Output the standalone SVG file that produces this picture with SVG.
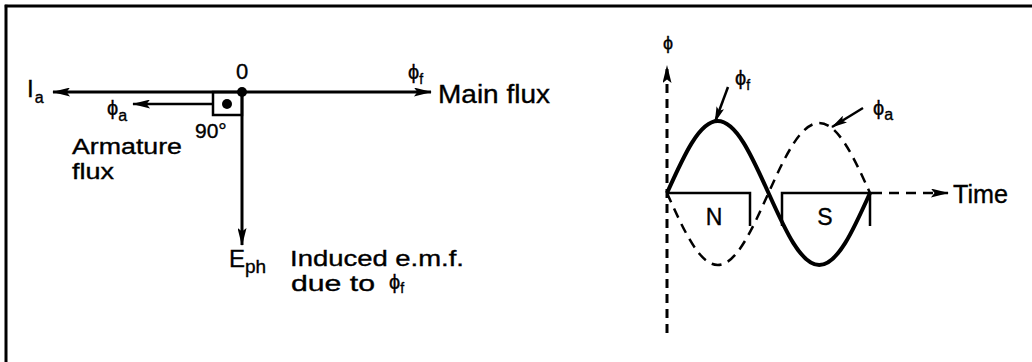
<svg xmlns="http://www.w3.org/2000/svg" width="1032" height="362" viewBox="0 0 1032 362">
<style>
.ln{stroke:#000;stroke-width:3;fill:none;stroke-linecap:butt}
.th{stroke:#000;stroke-width:2.5;fill:none}
.dash{stroke:#000;stroke-width:3;fill:none;stroke-dasharray:9 6}
.dsh2{stroke:#000;stroke-width:2.5;fill:none;stroke-dasharray:10 7}
.sine{stroke:#000;stroke-width:4;fill:none}
text{font-family:"Liberation Sans",Arial,sans-serif;fill:#000;stroke:#000;stroke-width:0.35}
.lb{font-size:25px}
.lb2{font-size:22px}
.sub{font-size:16px}
</style>
<defs>
<marker id="ah" viewBox="0 0 20 10" refX="19" refY="5" markerWidth="20" markerHeight="9" markerUnits="userSpaceOnUse" orient="auto">
<path d="M0,0 L20,5 L0,10 L4,5 z" fill="#000"/>
</marker>
<marker id="ahs" viewBox="0 0 20 10" refX="19" refY="5" markerWidth="16" markerHeight="8" markerUnits="userSpaceOnUse" orient="auto">
<path d="M0,0 L20,5 L0,10 L4,5 z" fill="#000"/>
</marker>
</defs>
<rect width="1032" height="362" fill="#fff"/>
<g id="border">
<line x1="6" y1="4.8" x2="6" y2="362" class="ln" stroke-width="2.5"/>
<line x1="4.8" y1="6" x2="1032" y2="6" class="ln" stroke-width="2.5"/>
</g>

<g id="connectors">
<line x1="242" y1="92" x2="53" y2="92" class="ln" marker-end="url(#ah)"/>
<line x1="213" y1="104" x2="133" y2="104" class="th" marker-end="url(#ah)"/>
<line x1="242" y1="92" x2="431" y2="92" class="ln" marker-end="url(#ah)"/>
<line x1="242" y1="92" x2="242" y2="245" class="ln" marker-end="url(#ah)"/>
<line x1="667" y1="333" x2="667" y2="66" class="dash" marker-end="url(#ah)"/>
<line x1="872" y1="193" x2="948" y2="193" class="dsh2" marker-end="url(#ah)"/>
<line x1="728" y1="87" x2="715" y2="122" class="th" marker-end="url(#ahs)"/>
<line x1="863" y1="108" x2="832" y2="127" class="th" marker-end="url(#ahs)"/>
</g>

<g id="phasor-diagram">
<rect x="213" y="92" width="29" height="23" class="th" stroke-width="2"/>
<circle cx="227" cy="104" r="5" fill="#000"/>
<circle cx="242" cy="92" r="5" fill="#000"/>
<text x="242" y="79" font-size="22" text-anchor="middle">0</text>
<text x="27" y="97" font-size="24">I<tspan class="sub" dx="1" dy="6">a</tspan></text>
<text x="107" y="115" font-size="20">ϕ<tspan class="sub" dy="6">a</tspan></text>
<text x="195" y="138" font-size="21">90°</text>
<text x="72" y="153.5" class="lb2" textLength="110" lengthAdjust="spacingAndGlyphs">Armature</text>
<text x="72" y="178.5" class="lb2" textLength="42" lengthAdjust="spacingAndGlyphs">flux</text>
<text x="408" y="79" font-size="20">ϕ<tspan font-size="14" dy="5">f</tspan></text>
<text x="438" y="103" class="lb" textLength="112" lengthAdjust="spacingAndGlyphs">Main flux</text>
<text x="229" y="267" font-size="24">E<tspan font-size="19" dy="6">ph</tspan></text>
<text x="290" y="266" class="lb2" textLength="174" lengthAdjust="spacingAndGlyphs">Induced e.m.f.</text>
<text x="291" y="291" class="lb2" textLength="84" lengthAdjust="spacingAndGlyphs">due to</text>
<text x="389" y="289" font-size="20">ϕ<tspan font-size="14" dy="4">f</tspan></text>
</g>

<g id="waveform">
<path d="M667,193 H750 V226 M782,226 V193 H872 M870,193 V226" class="th"/>
<path class="sine" d="M667,193 C683.97,155.19 699.48,121 717.75,121 C736.02,121 751.53,155.19 768.5,193 C785.47,230.81 800.98,265 819.25,265 C837.52,265 853.03,230.81 870,193"/>
<path class="dsh2" d="M667,193 C683.97,230.81 699.48,265 717.75,265 C736.02,265 751.53,230.81 768.5,193 C785.47,155.19 800.98,123 819.25,123 C837.52,123 853.03,155.19 870,193"/>
<text x="668" y="49" font-size="18" text-anchor="middle">ϕ</text>
<text x="735" y="85" font-size="20">ϕ<tspan font-size="14" dy="5">f</tspan></text>
<text x="873" y="115" font-size="20">ϕ<tspan class="sub" dy="5">a</tspan></text>
<text x="714" y="225" font-size="23" text-anchor="middle">N</text>
<text x="825" y="225" font-size="23" text-anchor="middle">S</text>
<text x="953" y="203" class="lb" textLength="55" lengthAdjust="spacingAndGlyphs">Time</text>
</g>
</svg>
